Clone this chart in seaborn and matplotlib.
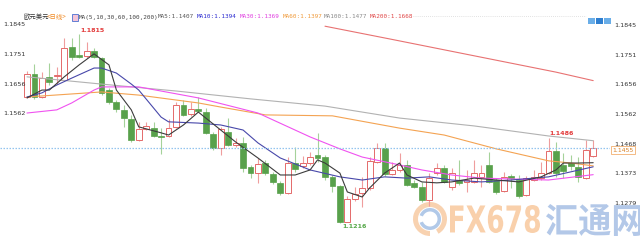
import numpy as np
import pandas as pd
import matplotlib
matplotlib.use("Agg")
import matplotlib.pyplot as plt
import matplotlib.transforms as mtransforms
from matplotlib.patches import Rectangle, Wedge, PathPatch
from matplotlib.textpath import TextPath
from matplotlib.font_manager import FontProperties
from matplotlib.transforms import Affine2D
import seaborn as sns

# ---------------- data (EUR/USD daily candles) ----------------
opens = [1.1616, 1.1689, 1.1616, 1.1680, 1.1683, 1.1670, 1.1775, 1.1750, 1.1746, 1.1762,
         1.1740, 1.1638, 1.1600, 1.1575, 1.1546, 1.1480, 1.1514, 1.1517, 1.1492, 1.1492,
         1.1521, 1.1591, 1.1562, 1.1578, 1.1568, 1.1498, 1.1454, 1.1505, 1.1463, 1.1470,
         1.1393, 1.1374, 1.1406, 1.1371, 1.1343, 1.1311, 1.1406, 1.1397, 1.1406, 1.1432,
         1.1425, 1.1362, 1.1333, 1.1219, 1.1292, 1.1311, 1.1327, 1.1409, 1.1454, 1.1371,
         1.1384, 1.1400, 1.1343, 1.1330, 1.1289, 1.1374, 1.1390, 1.1330, 1.1352, 1.1346,
         1.1346, 1.1362, 1.1400, 1.1352, 1.1317, 1.1365, 1.1352, 1.1304, 1.1352, 1.1358,
         1.1374, 1.1444, 1.1400, 1.1406, 1.1393, 1.1358, 1.1428]
closes = [1.1689, 1.1616, 1.1676, 1.1664, 1.1686, 1.1772, 1.1743, 1.1743, 1.1762, 1.1743,
          1.1629, 1.1600, 1.1578, 1.1549, 1.1480, 1.1514, 1.1524, 1.1492, 1.1489, 1.1517,
          1.1591, 1.1559, 1.1578, 1.1572, 1.1502, 1.1454, 1.1514, 1.1463, 1.1470, 1.1390,
          1.1374, 1.1403, 1.1374, 1.1346, 1.1311, 1.1406, 1.1387, 1.1406, 1.1425, 1.1422,
          1.1362, 1.1333, 1.1219, 1.1292, 1.1308, 1.1327, 1.1413, 1.1454, 1.1371, 1.1384,
          1.1400, 1.1336, 1.1330, 1.1289, 1.1358, 1.1390, 1.1346, 1.1374, 1.1343, 1.1352,
          1.1374, 1.1374, 1.1346, 1.1314, 1.1362, 1.1358, 1.1301, 1.1358, 1.1362, 1.1374,
          1.1444, 1.1374, 1.1381, 1.1397, 1.1362, 1.1447, 1.1455]
highs = [1.1699, 1.1721, 1.1696, 1.1724, 1.1711, 1.1804, 1.1804, 1.1815, 1.1791, 1.1772,
         1.1743, 1.1645, 1.1606, 1.1591, 1.1559, 1.1537, 1.1537, 1.1537, 1.1517, 1.1546,
         1.1600, 1.1606, 1.1600, 1.1616, 1.1581, 1.1505, 1.1521, 1.1549, 1.1486, 1.1489,
         1.1400, 1.1422, 1.1416, 1.1378, 1.1349, 1.1425, 1.1457, 1.1428, 1.1441, 1.1502,
         1.1432, 1.1368, 1.1336, 1.1301, 1.1330, 1.1362, 1.1425, 1.1470, 1.1470, 1.1409,
         1.1438, 1.1416, 1.1352, 1.1346, 1.1374, 1.1406, 1.1400, 1.1390, 1.1416, 1.1384,
         1.1416, 1.1400, 1.1441, 1.1358, 1.1378, 1.1371, 1.1368, 1.1365, 1.1384, 1.1409,
         1.1486, 1.1473, 1.1438, 1.1432, 1.1425, 1.1480, 1.1480]
lows = [1.1613, 1.1610, 1.1613, 1.1654, 1.1657, 1.1667, 1.1734, 1.1740, 1.1740, 1.1740,
        1.1622, 1.1594, 1.1568, 1.1521, 1.1473, 1.1476, 1.1511, 1.1489, 1.1435, 1.1489,
        1.1517, 1.1556, 1.1556, 1.1568, 1.1498, 1.1447, 1.1432, 1.1460, 1.1457, 1.1378,
        1.1358, 1.1343, 1.1368, 1.1339, 1.1304, 1.1308, 1.1378, 1.1390, 1.1400, 1.1409,
        1.1352, 1.1314, 1.1216, 1.1217, 1.1285, 1.1266, 1.1320, 1.1406, 1.1365, 1.1368,
        1.1378, 1.1333, 1.1327, 1.1282, 1.1269, 1.1368, 1.1343, 1.1320, 1.1336, 1.1314,
        1.1343, 1.1330, 1.1343, 1.1308, 1.1314, 1.1327, 1.1295, 1.1301, 1.1349, 1.1352,
        1.1371, 1.1362, 1.1358, 1.1384, 1.1346, 1.1355, 1.1425]

# moving averages at candle indices
ma5_x = [0, 2, 3, 5, 7, 9, 11, 12, 14, 15, 18, 19, 21, 23, 25, 28, 31, 34, 36, 38,
         39, 40, 42, 43, 45, 46, 48, 50, 51, 53, 55, 57, 60, 63, 66, 69, 71, 72, 74, 76]
ma5_y = [1.1613, 1.1638, 1.1638, 1.1680, 1.1718, 1.1753, 1.1718, 1.1638, 1.1575, 1.1521,
         1.1502, 1.1495, 1.1527, 1.1568, 1.1530, 1.1473, 1.1422, 1.1368, 1.1368, 1.1384,
         1.1416, 1.1406, 1.1374, 1.1314, 1.1298, 1.1327, 1.1374, 1.1406, 1.1368, 1.1346,
         1.1343, 1.1346, 1.1358, 1.1352, 1.1346, 1.1362, 1.1384, 1.1406, 1.1406, 1.1407]
ma10_x = [0, 2, 4, 6, 9, 10, 12, 14, 15, 18, 19, 23, 26, 29, 31, 34, 38, 42, 45, 48,
          51, 54, 57, 61, 65, 70, 73, 76]
ma10_y = [1.1616, 1.1629, 1.1654, 1.1676, 1.1708, 1.1708, 1.1692, 1.1657, 1.1638, 1.1552,
          1.1537, 1.1533, 1.1527, 1.1511, 1.1470, 1.1422, 1.1384, 1.1362, 1.1352, 1.1362,
          1.1358, 1.1362, 1.1352, 1.1346, 1.1352, 1.1362, 1.1378, 1.1394]
ma30_x = [0, 4, 6, 9, 10, 15, 23, 31, 38, 42, 45, 50, 53, 57, 61, 70, 76]
ma30_y = [1.1565, 1.1575, 1.1597, 1.1638, 1.1648, 1.1648, 1.1613, 1.1565, 1.1489, 1.1451,
          1.1425, 1.1400, 1.1384, 1.1368, 1.1358, 1.1352, 1.1369]
ma60_x = [0, 10, 15, 23, 26, 32, 41, 50, 56, 63, 70, 73, 76]
ma60_y = [1.1616, 1.1632, 1.1622, 1.1597, 1.1584, 1.1559, 1.1556, 1.1517, 1.1495, 1.1451,
          1.1413, 1.1406, 1.1397]
ma100_x = [0, 10, 20, 30, 40, 50, 60, 70, 76]
ma100_y = [1.1680, 1.1657, 1.1635, 1.1610, 1.1587, 1.1549, 1.1524, 1.1492, 1.1477]
ma200_x = [40, 49, 71, 76]
ma200_y = [1.1841, 1.1799, 1.1695, 1.1668]

ytick_vals = [1.1845, 1.1751, 1.1656, 1.1562, 1.1468, 1.1373, 1.1279]
left_tick_vals = [1.1845, 1.1751, 1.1656, 1.1562]

title_cn = "欧元美元"
title_period = "<日线>"
ma_header = "MA(5,10,30,60,100,200)"
ma_labels = ["MA5:1.1407", "MA10:1.1394", "MA30:1.1369", "MA60:1.1397",
             "MA100:1.1477", "MA200:1.1668"]

# ---------------- style ----------------
sns.set_theme(style="white")
plt.rcParams['font.family'] = ['DejaVu Sans', 'Noto Sans CJK SC']

UP_EDGE = '#e46a6a'
UP_WICK = '#ef9d9d'
DN_FILL = '#58a14b'
DN_WICK = '#a5d29a'
MA_COLORS = ['#3c3c3c', '#4848aa', '#f052f0', '#f4a352', '#b2b2b2', '#e87272']
HDR_COLORS = ['#555555', '#2b2bd0', '#e040e0', '#f09a3a', '#8a8a8a', '#e04848']

fig = plt.figure(figsize=(6.4, 2.5), dpi=100, facecolor='white')

# overlay in pixel coordinates (header, icons, watermark)
ov = fig.add_axes([0, 0, 1, 1])
ov.set_xlim(0, 640)
ov.set_ylim(250, 0)
ov.axis('off')
ov.set_zorder(0)

ax = fig.add_axes([0, 10 / 250, 610 / 640, 216 / 250])
ax.set_zorder(1)
ax.patch.set_visible(False)

df = pd.DataFrame({'open': opens, 'high': highs, 'low': lows, 'close': closes})
df['idx'] = np.arange(len(df))
up = df[df['close'] >= df['open']]
dn = df[df['close'] < df['open']]

MINH = 0.00006
# wicks
ax.vlines(up['idx'], up['low'], up['high'], color=UP_WICK, lw=0.8, zorder=2)
ax.vlines(dn['idx'], dn['low'], dn['high'], color=DN_WICK, lw=0.8, zorder=2)
# bodies
ax.bar(up['idx'], np.maximum(up['close'] - up['open'], MINH), bottom=up['open'],
       width=0.78, facecolor='white', edgecolor=UP_EDGE, linewidth=0.7, zorder=3)
ax.bar(dn['idx'], np.maximum(dn['open'] - dn['close'], MINH), bottom=dn['close'],
       width=0.78, facecolor=DN_FILL, edgecolor=DN_FILL, linewidth=0.5, zorder=3)

# moving averages
for xs, ys, col in [(ma100_x, ma100_y, MA_COLORS[4]), (ma60_x, ma60_y, MA_COLORS[3]),
                    (ma30_x, ma30_y, MA_COLORS[2]), (ma10_x, ma10_y, MA_COLORS[1]),
                    (ma5_x, ma5_y, MA_COLORS[0]), (ma200_x, ma200_y, MA_COLORS[5])]:
    sns.lineplot(x=xs, y=ys, ax=ax, color=col, linewidth=0.8, zorder=4)

# current price line
last = closes[-1]
ax.axhline(last, color='#93c4ef', lw=0.9, ls=(0, (1.2, 1.2)), zorder=5)

ax.set_xlim(-27 / 7.45, (610 - 27) / 7.45)
ax.set_ylim(1.11613, 1.1848)
for s in ax.spines.values():
    s.set_visible(False)
ax.set_xticks([])
ax.set_yticks(ytick_vals)
ax.set_yticklabels([f"{v:.4f}" for v in ytick_vals])
ax.yaxis.tick_right()
ax.tick_params(axis='y', length=0, pad=3, labelsize=4.6, labelcolor='#333333')
ax.set_xlabel('')
ax.set_ylabel('')
ax.grid(False)

blend = mtransforms.blended_transform_factory(ax.transAxes, ax.transData)
for v in left_tick_vals:
    ax.text(3 / 610, v, f"{v:.4f}", transform=blend, fontsize=4.6, color='#333333',
            ha='left', va='center', zorder=6)

# price tag
ax.text(1.004, last - 0.00008, f"{last:.4f}", transform=blend, fontsize=4.4,
        color='#d98024', ha='left', va='top', clip_on=False, zorder=7,
        bbox=dict(boxstyle='square,pad=0.25', fc='white', ec='#f3b070', lw=0.6))

# high / low annotations
imax = int(np.argmax(highs))
imin = int(np.argmin(lows))
ax.annotate(f"{highs[imax]:.4f}", xy=(imax, highs[imax]), xytext=(1.2, 1.0),
            textcoords='offset points', fontsize=4.6, color='#e33b3b',
            fontweight='bold', ha='left', va='bottom', zorder=7)
ax.annotate(f"{highs[70]:.4f}", xy=(70, highs[70]), xytext=(0.5, 1.0),
            textcoords='offset points', fontsize=4.6, color='#e33b3b',
            fontweight='bold', ha='left', va='bottom', zorder=7)
ax.annotate(f"{lows[imin]:.4f}", xy=(imin, lows[imin]), xytext=(1.5, -1.0),
            textcoords='offset points', fontsize=4.6, color='#57a84a',
            fontweight='bold', ha='left', va='top', zorder=7)

# ---------------- header ----------------
ov.text(23, 17, title_cn, fontsize=4.6, color='#333333', va='center', ha='left',
        family=['Noto Sans CJK SC', 'DejaVu Sans'])
ov.text(47, 17, title_period, fontsize=4.6, color='#f08a24', va='center', ha='left',
        family=['Noto Sans CJK SC', 'DejaVu Sans'])
ov.add_patch(Rectangle((72, 13.5), 6, 7, fc='#f4c4d8', ec='#4a6fd0', lw=0.6))
ov.text(79, 17, ma_header, fontsize=4.3, color='#444444', va='center', ha='left',
        family='DejaVu Sans Mono')
for xpos, lab, col in zip([158, 197, 240, 283, 324, 370], ma_labels, HDR_COLORS):
    ov.text(xpos, 17, lab, fontsize=4.3, color=col, va='center', ha='left',
            family='DejaVu Sans Mono')
ov.plot([413, 586], [16, 16], color='#d8d8d8', lw=0.6, ls=(0, (1, 1.5)))
for xi, col in zip([588, 596, 604], ['#6aaee8', '#2f7fd0', '#6aaee8']):
    ov.add_patch(Rectangle((xi, 17.5), 6.5, 6.5, fc=col, ec='none'))

# ---------------- watermark ----------------
ov.add_patch(Wedge((430, 219), 17, 90, 420, width=5, fc='#f8cda8', ec='none', alpha=0.9))
ov.add_patch(Wedge((430, 219), 11, 200, 520, width=3.5, fc='#a9c3e6', ec='none', alpha=0.9))

def add_word(txt, x0, y_base, w, h, color, family, weight='bold'):
    fp = FontProperties(family=family, weight=weight)
    tp = TextPath((0, 0), txt, size=1, prop=fp)
    bb = tp.get_extents()
    tr = Affine2D().translate(-bb.x0, -bb.y0).scale(w / bb.width, -h / bb.height).translate(x0, y_base)
    ov.add_patch(PathPatch(tr.transform_path(tp), fc=color, ec='none'))

add_word("FX678", 450, 233, 90, 28, '#f9d0ab', 'DejaVu Sans')
add_word("汇通网", 546, 236, 96, 32, '#b3c8e8', 'Noto Sans CJK SC')

fig.savefig('out.png', dpi=100, facecolor='white')
